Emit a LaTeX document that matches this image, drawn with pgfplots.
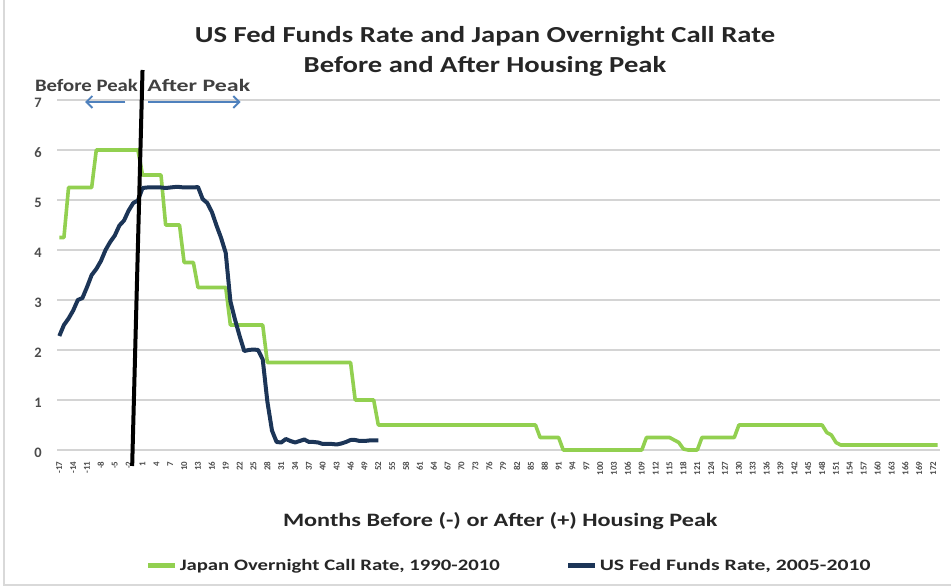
\documentclass[border=0pt]{standalone}
\usepackage{fontspec}
\setmainfont{Carlito}
\usepackage{graphicx}
\usepackage{pgfplots}
\pgfplotsset{compat=1.18}
\usetikzlibrary{arrows.meta}
\definecolor{jgreen}{HTML}{92D050}
\definecolor{usblue}{HTML}{1C3557}
\definecolor{arrowblue}{HTML}{4F81BD}
\definecolor{gridgray}{HTML}{D4D4D4}
\definecolor{txt}{HTML}{262626}
\newcommand{\wide}[1]{\scalebox{1.28}[1]{#1}}
\begin{document}
\begin{tikzpicture}[x=1bp,y=1bp]
\useasboundingbox (0,0) rectangle (951,588);
\draw[gray!30, line width=1.5bp] (4,588) -- (4,3) -- (951,3);
\node[font=\fontsize{23}{23}\selectfont\bfseries, text=txt, anchor=base] at (485,545) {\scalebox{1.25}[1]{US Fed Funds Rate and Japan Overnight Call Rate}};
\node[font=\fontsize{23}{23}\selectfont\bfseries, text=txt, anchor=base] at (485,515) {\scalebox{1.25}[1]{Before and After Housing Peak}};
\begin{axis}[
  at={(57bp,138bp)}, anchor=south west,
  scale only axis, width=883bp, height=350bp,
  xmin=-17.5, xmax=173.5, ymin=0, ymax=7,
  axis line style={draw=none},
  xtick={-17,-14,...,172},
  ytick={0,1,...,7},
  ymajorgrids, grid style={gridgray, line width=1.3bp},
  major tick length=0pt,
  /pgf/number format/assume math mode=true,
  xticklabel style={rotate=90, anchor=east, font=\fontsize{9}{9}\selectfont\bfseries, text=black!70},
  yticklabel style={font=\fontsize{14.5}{14.5}\selectfont\bfseries, text=black!70, inner sep=1bp, yshift=-2.5bp},
  xticklabel shift=8bp,
  yticklabel shift=14bp,
  clip=false,
  xlabel={\wide{Months Before (-) or After (+) Housing Peak}},
  xlabel style={font=\fontsize{19}{19}\selectfont\bfseries, text=txt, at={(axis description cs:0.502,-0.22)}, anchor=base},
  legend columns=2,
  legend style={at={(axis description cs:0.512,-0.331)}, anchor=center, draw=none, fill=none,
    font=\fontsize{16}{16}\selectfont\bfseries, text=txt,
    /tikz/every even column/.append style={column sep=64bp}},
  legend image code/.code={\draw[#1, line cap=butt, line width=5bp] (0bp,0bp) -- (27bp,0bp);},
]
\addplot[jgreen, line width=3.6bp, line join=round] coordinates {
(-17,4.25) (-16,4.25) (-15,5.25) (-10,5.25) (-9,6.0) (0,6.0) (1,5.5) (5,5.5) (6,4.5) (9,4.5)
(10,3.75) (12,3.75) (13,3.25) (19,3.25) (20,2.5) (27,2.5) (28,1.75) (46,1.75) (47,1.0) (51,1.0)
(52,0.5) (86,0.5) (87,0.25) (91,0.25) (92,0) (109,0) (110,0.25) (115,0.25) (116,0.2) (117,0.15)
(118,0.02) (119,0) (121,0) (122,0.25) (129,0.25) (130,0.5) (148,0.5) (149,0.35) (150,0.3) (151,0.15) (152,0.1) (173,0.1)
};
\addlegendentry{\scalebox{1.30}[1]{Japan Overnight Call Rate, 1990-2010}}
\addplot[usblue, line width=4bp, line join=round] coordinates {
(-17,2.28) (-16,2.50) (-15,2.63) (-14,2.79) (-13,3.00) (-12,3.04) (-11,3.26) (-10,3.50) (-9,3.62)
(-8,3.78) (-7,4.00) (-6,4.16) (-5,4.29) (-4,4.49) (-3,4.59) (-2,4.79) (-1,4.94) (0,4.99) (1,5.24)
(2,5.25) (3,5.25) (4,5.25) (5,5.25) (6,5.24) (7,5.25) (8,5.26) (9,5.26) (10,5.25) (11,5.25) (12,5.25)
(13,5.26) (14,5.02) (15,4.94) (16,4.76) (17,4.49) (18,4.24) (19,3.94) (20,2.98) (21,2.61) (22,2.28)
(23,1.98) (24,2.00) (25,2.01) (26,2.00) (27,1.81) (28,0.97) (29,0.39) (30,0.16) (31,0.15) (32,0.22)
(33,0.18) (34,0.15) (35,0.18) (36,0.21) (37,0.16) (38,0.16) (39,0.15) (40,0.12) (41,0.12) (42,0.12)
(43,0.11) (44,0.13) (45,0.16) (46,0.20) (47,0.20) (48,0.18) (49,0.18) (50,0.19) (51,0.19) (52,0.19)
};
\addlegendentry{\scalebox{1.36}[1]{US Fed Funds Rate, 2005-2010}}
\draw[black, line width=4bp] (axis cs:1.0,7.6) -- (axis cs:-1.24,-0.32);
\draw[arrowblue, line width=1.8bp, -{Straight Barb[length=6bp,width=12bp]}] (axis cs:-2.7,6.96) -- (axis cs:-11.4,6.96);
\draw[arrowblue, line width=1.8bp, -{Straight Barb[length=6bp,width=12bp]}] (axis cs:2.2,6.96) -- (axis cs:22.2,6.96);
\node[font=\fontsize{17.5}{17.5}\selectfont\bfseries, text=black!75, anchor=base west, inner sep=0pt] at (axis cs:-22.3,7.17) {\scalebox{1.19}[1]{Before Peak}};
\node[font=\fontsize{17.5}{17.5}\selectfont\bfseries, text=black!75, anchor=base west, inner sep=0pt] at (axis cs:2.0,7.17) {\scalebox{1.37}[1]{After Peak}};
\end{axis}
\end{tikzpicture}
\end{document}
